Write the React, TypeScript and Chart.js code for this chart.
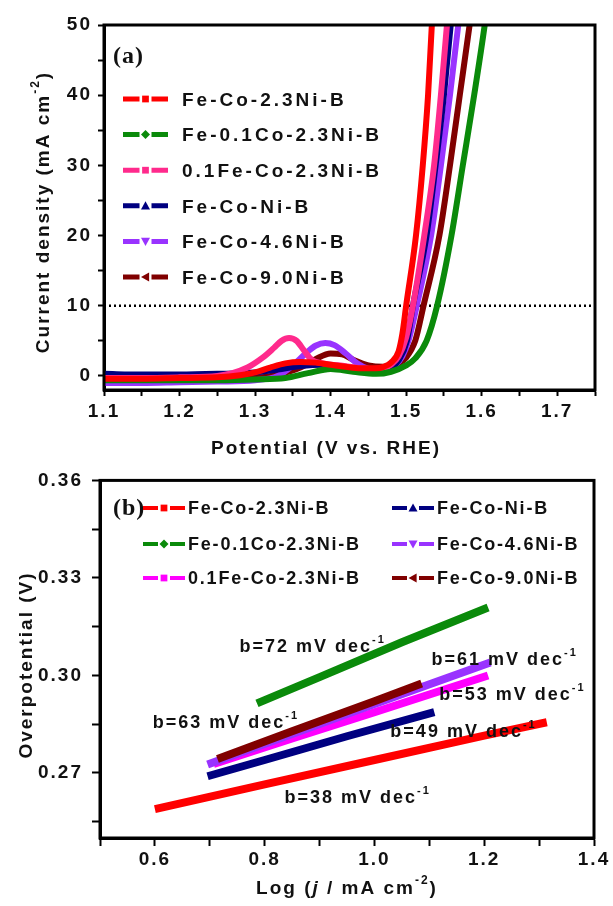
import React, { useEffect, useRef } from 'react';
import { Chart, registerables } from 'chart.js';

Chart.register(...registerables);

const SANS = '"Liberation Sans", Arial, Helvetica, sans-serif';
const SERIF = '"Liberation Serif", "Times New Roman", serif';
const INK = '#111111';

// ---------- series ----------
const seriesNames = ['Fe-Co-2.3Ni-B', 'Fe-0.1Co-2.3Ni-B', '0.1Fe-Co-2.3Ni-B', 'Fe-Co-Ni-B', 'Fe-Co-4.6Ni-B', 'Fe-Co-9.0Ni-B'];
const colorsA = ['#ff0000', '#0a8a0a', '#ff2a8c', '#000080', '#9933ff', '#800000'];
const colorsB = ['#ff0000', '#0a8a0a', '#ff00ff', '#000080', '#9933ff', '#800000'];
const markerShapes = ['square', 'diamond', 'square', 'triangleUp', 'triangleDown', 'triangleLeft'];
// drawing order in panel (b): lower = on top
const drawOrderB = [0, 3, 2, 3, 1, 0];

// ---------- (a) LSV: potential (V vs RHE) and current density (mA cm-2) ----------
const potFeCo23 = [1.10, 1.15, 1.20, 1.25, 1.28, 1.30, 1.32, 1.34, 1.36, 1.38, 1.40, 1.42, 1.44, 1.46, 1.47, 1.48, 1.49, 1.495, 1.50, 1.513, 1.522, 1.529, 1.534, 1.537];
const curFeCo23 = [-0.4, -0.4, -0.3, -0.2, 0.1, 0.5, 1.2, 1.8, 2.0, 1.9, 1.6, 1.3, 1.1, 1.1, 1.3, 1.9, 3.5, 6.0, 10, 20, 30, 40, 50, 55];

const potFe01Co = [1.10, 1.15, 1.20, 1.25, 1.30, 1.34, 1.37, 1.40, 1.43, 1.46, 1.48, 1.50, 1.512, 1.527, 1.541, 1.56, 1.575, 1.59, 1.604, 1.61];
const curFe01Co = [-0.6, -0.6, -0.6, -0.6, -0.5, -0.3, 0.4, 1.0, 0.6, 0.3, 0.6, 1.5, 2.5, 5, 10, 20, 30, 40, 50, 55];

const pot01FeCo = [1.10, 1.15, 1.20, 1.25, 1.27, 1.29, 1.31, 1.325, 1.335, 1.345, 1.355, 1.365, 1.375, 1.39, 1.42, 1.45, 1.47, 1.48, 1.49, 1.50, 1.509, 1.524, 1.537, 1.546, 1.554, 1.558];
const cur01FeCo = [-0.3, -0.3, -0.2, 0.0, 0.4, 1.2, 2.6, 4.0, 5.0, 5.4, 5.0, 3.6, 2.3, 1.8, 1.4, 1.0, 1.1, 1.6, 2.8, 5.5, 10, 20, 30, 40, 50, 55];

const potFeCoNi = [1.10, 1.15, 1.20, 1.25, 1.30, 1.33, 1.36, 1.39, 1.42, 1.45, 1.47, 1.48, 1.49, 1.501, 1.509, 1.527, 1.539, 1.550, 1.559, 1.563];
const curFeCoNi = [0.3, 0.2, 0.2, 0.3, 0.5, 0.9, 1.4, 1.6, 1.2, 0.6, 0.7, 1.2, 2.2, 5, 10, 20, 30, 40, 50, 55];

const potFeCo46 = [1.10, 1.15, 1.20, 1.25, 1.30, 1.33, 1.35, 1.37, 1.38, 1.393, 1.405, 1.42, 1.435, 1.45, 1.47, 1.485, 1.495, 1.503, 1.514, 1.533, 1.546, 1.558, 1.569, 1.574];
const curFeCo46 = [-1.0, -1.0, -0.9, -0.8, -0.6, 0.0, 1.5, 3.5, 4.3, 4.7, 4.4, 3.2, 1.8, 1.0, 0.8, 1.5, 2.8, 5, 10, 20, 30, 40, 50, 55];

const potFeCo90 = [1.10, 1.15, 1.20, 1.25, 1.30, 1.33, 1.36, 1.38, 1.40, 1.415, 1.43, 1.45, 1.47, 1.49, 1.499, 1.512, 1.523, 1.544, 1.558, 1.571, 1.584, 1.59];
const curFeCo90 = [-0.6, -0.6, -0.5, -0.5, -0.3, 0.2, 1.2, 2.4, 3.2, 3.1, 2.3, 1.5, 1.3, 1.8, 2.5, 5, 10, 20, 30, 40, 50, 55];

const lsvPotentials = [potFeCo23, potFe01Co, pot01FeCo, potFeCoNi, potFeCo46, potFeCo90];
const lsvCurrents = [curFeCo23, curFe01Co, cur01FeCo, curFeCoNi, curFeCo46, curFeCo90];

const xMinA = 1.1;
const xMaxA = 1.75;
const yMinA = -2;
const yMaxA = 50;
const xTicksA = [1.1, 1.15, 1.2, 1.25, 1.3, 1.35, 1.4, 1.45, 1.5, 1.55, 1.6, 1.65, 1.7, 1.75];
const xTickLabelsA = ['1.1', '', '1.2', '', '1.3', '', '1.4', '', '1.5', '', '1.6', '', '1.7', ''];
const yTicksA = [0, 5, 10, 15, 20, 25, 30, 35, 40, 45, 50];
const yTickLabelsA = ['0', '', '10', '', '20', '', '30', '', '40', '', '50'];
const targetCurrent = 10;

// ---------- (b) Tafel: log(j) and overpotential (V) ----------
const logJFeCo23 = [0.60, 0.80, 1.00, 1.20, 1.314];
const etaFeCo23 = [0.2589, 0.2665, 0.2740, 0.2815, 0.2856];
const logJFe01Co = [0.786, 0.90, 1.05, 1.207];
const etaFe01Co = [0.2914, 0.2995, 0.3102, 0.3209];
const logJ01FeCo = [0.707, 0.85, 1.00, 1.207];
const eta01FeCo = [0.2728, 0.2806, 0.2887, 0.3000];
const logJFeCoNi = [0.696, 0.80, 0.95, 1.109];
const etaFeCoNi = [0.2690, 0.2740, 0.2813, 0.2887];
const logJFeCo46 = [0.696, 0.85, 1.00, 1.211];
const etaFeCo46 = [0.2726, 0.2820, 0.2912, 0.3040];
const logJFeCo90 = [0.714, 0.85, 1.00, 1.086];
const etaFeCo90 = [0.2743, 0.2828, 0.2921, 0.2975];

const tafelLogJ = [logJFeCo23, logJFe01Co, logJ01FeCo, logJFeCoNi, logJFeCo46, logJFeCo90];
const tafelEta = [etaFeCo23, etaFe01Co, eta01FeCo, etaFeCoNi, etaFeCo46, etaFeCo90];

const xMinB = 0.5;
const xMaxB = 1.4;
const yMinB = 0.25;
const yMaxB = 0.36;
const xTicksB = [0.5, 0.6, 0.7, 0.8, 0.9, 1.0, 1.1, 1.2, 1.3, 1.4];
const xTickLabelsB = ['', '0.6', '', '0.8', '', '1.0', '', '1.2', '', '1.4'];
const yTicksB = [0.255, 0.27, 0.285, 0.30, 0.315, 0.33, 0.345, 0.36];
const yTickLabelsB = ['', '0.27', '', '0.30', '', '0.33', '', '0.36'];

const tafelSlopes = ['72', '61', '53', '63', '49', '38'];
const tafelNoteX = [0.754, 1.104, 1.118, 0.596, 1.029, 0.836];
const tafelNoteY = [0.3092, 0.3052, 0.2945, 0.2859, 0.2829, 0.2628];

// ---------- drawing helpers ----------
type Seg = { t: string; sup?: boolean; italic?: boolean };

function setSpacing(ctx: CanvasRenderingContext2D, px: number) {
  (ctx as any).letterSpacing = px + 'px';
}

function drawRich(ctx: CanvasRenderingContext2D, segs: Seg[], x: number, y: number, size: number, rot = 0, align: 'center' | 'left' = 'center', spacing = 2) {
  ctx.save();
  ctx.translate(x, y);
  ctx.rotate(rot);
  setSpacing(ctx, spacing);
  ctx.textAlign = 'left';
  ctx.textBaseline = 'alphabetic';
  ctx.fillStyle = INK;
  const fontFor = (s: Seg) => `${s.italic ? 'italic ' : ''}bold ${s.sup ? Math.round(size * 0.62) : size}px ${SANS}`;
  const widths = segs.map((s) => {
    ctx.font = fontFor(s);
    return ctx.measureText(s.t).width;
  });
  const total = widths.reduce((a, b) => a + b, 0);
  let cx = align === 'center' ? -total / 2 : 0;
  const base = size * 0.358;
  segs.forEach((s, i) => {
    ctx.font = fontFor(s);
    ctx.fillText(s.t, cx, s.sup ? base - size * 0.5 : base);
    cx += widths[i];
  });
  ctx.restore();
}

function drawMarker(ctx: CanvasRenderingContext2D, shape: string, x: number, y: number, r: number, color: string) {
  ctx.fillStyle = color;
  ctx.beginPath();
  if (shape === 'square') {
    ctx.rect(x - r * 0.75, y - r * 0.75, r * 1.5, r * 1.5);
  } else if (shape === 'diamond') {
    ctx.moveTo(x, y - r); ctx.lineTo(x + r, y); ctx.lineTo(x, y + r); ctx.lineTo(x - r, y);
  } else if (shape === 'triangleUp') {
    ctx.moveTo(x, y - r); ctx.lineTo(x + r, y + r * 0.8); ctx.lineTo(x - r, y + r * 0.8);
  } else if (shape === 'triangleDown') {
    ctx.moveTo(x, y + r); ctx.lineTo(x + r, y - r * 0.8); ctx.lineTo(x - r, y - r * 0.8);
  } else {
    ctx.moveTo(x - r, y); ctx.lineTo(x + r * 0.8, y - r); ctx.lineTo(x + r * 0.8, y + r);
  }
  ctx.closePath();
  ctx.fill();
}

function drawLegendItem(ctx: CanvasRenderingContext2D, x0: number, x1: number, y: number, color: string, shape: string, label: string, lw: number, size: number, spacing: number, textX: number) {
  const mid = (x0 + x1) / 2;
  ctx.save();
  ctx.strokeStyle = color;
  ctx.lineWidth = lw;
  ctx.lineCap = 'butt';
  ctx.beginPath();
  ctx.moveTo(x0, y); ctx.lineTo(mid - 6, y);
  ctx.moveTo(mid + 6, y); ctx.lineTo(x1, y);
  ctx.stroke();
  drawMarker(ctx, shape, mid, y, 4.5, color);
  ctx.font = `bold ${size}px ${SANS}`;
  setSpacing(ctx, spacing);
  ctx.fillStyle = INK;
  ctx.textAlign = 'left';
  ctx.textBaseline = 'alphabetic';
  ctx.fillText(label, textX, y + size * 0.358);
  ctx.restore();
}

const framePlugin = {
  id: 'frame',
  beforeDraw(chart: any) {
    setSpacing(chart.ctx, 2);
  },
  afterDatasetsDraw(chart: any) {
    const { ctx, chartArea: a } = chart;
    ctx.save();
    ctx.strokeStyle = '#000';
    ctx.lineWidth = 3;
    ctx.strokeRect(a.left, a.top, a.right - a.left, a.bottom - a.top);
    ctx.restore();
  },
};

const textPluginA = {
  id: 'textA',
  afterDraw(chart: any) {
    const ctx: CanvasRenderingContext2D = chart.ctx;
    ctx.save();
    ctx.font = `bold 24px ${SERIF}`;
    setSpacing(ctx, 1);
    ctx.fillStyle = INK;
    ctx.textAlign = 'left';
    ctx.textBaseline = 'alphabetic';
    ctx.fillText('(a)', 113, 55 + 24 * 0.33);
    ctx.restore();
    seriesNames.forEach((name, i) => {
      drawLegendItem(ctx, 123, 168, 99 + i * 35.6, colorsA[i], markerShapes[i], name, 5, 19, 3, 182);
    });
    drawRich(ctx, [{ t: 'Current density (mA cm' }, { t: '-2', sup: true }, { t: ')' }], 42, 212, 19, -Math.PI / 2);
    drawRich(ctx, [{ t: 'Potential (V vs. RHE)' }], 326, 447, 19);
  },
};

const textPluginB = {
  id: 'textB',
  afterDraw(chart: any) {
    const ctx: CanvasRenderingContext2D = chart.ctx;
    const xs = chart.scales.x;
    const ys = chart.scales.y;
    ctx.save();
    ctx.font = `bold 24px ${SERIF}`;
    setSpacing(ctx, 1);
    ctx.fillStyle = INK;
    ctx.textAlign = 'left';
    ctx.textBaseline = 'alphabetic';
    ctx.fillText('(b)', 113, 47 + 24 * 0.33);
    ctx.restore();
    const rows = [48, 84, 118];
    seriesNames.forEach((name, i) => {
      const col = Math.floor(i / 3);
      const row = i % 3;
      const x0 = col === 0 ? 143 : 392;
      drawLegendItem(ctx, x0, x0 + 42, rows[row], colorsB[i], markerShapes[i], name, 4, 18, 1.8, x0 + 45);
    });
    tafelSlopes.forEach((s, i) => {
      drawRich(ctx, [{ t: `b=${s} mV dec` }, { t: '-1', sup: true }], xs.getPixelForValue(tafelNoteX[i]), ys.getPixelForValue(tafelNoteY[i]), 18, 0, 'left', 2);
    });
    drawRich(ctx, [{ t: 'Overpotential (V)' }], 25, 205, 19, -Math.PI / 2);
    drawRich(ctx, [{ t: 'Log (' }, { t: 'j', italic: true }, { t: ' / mA cm' }, { t: '-2', sup: true }, { t: ')' }], 347, 427, 19);
  },
};

function axisCommon(size: number, tickLen: number, pad: number) {
  return {
    ticks: { autoSkip: false, maxRotation: 0, font: { family: SANS, size, weight: 'bold' }, color: INK, padding: pad },
    grid: { drawOnChartArea: false, drawTicks: true, tickLength: tickLen, tickWidth: 2, tickColor: '#000' },
    border: { display: true, width: 3, color: '#000' },
  };
}

function configA(): any {
  const datasets: any[] = lsvPotentials.map((pots, i) => ({
    label: seriesNames[i],
    data: pots.map((v, k) => ({ x: v, y: lsvCurrents[i][k] })),
    borderColor: colorsA[i],
    backgroundColor: colorsA[i],
    borderWidth: 6,
    pointRadius: 0,
    cubicInterpolationMode: 'monotone',
    fill: false,
  }));
  datasets.push({
    label: 'j = 10',
    data: [{ x: xMinA, y: targetCurrent }, { x: xMaxA, y: targetCurrent }],
    borderColor: '#000',
    borderWidth: 2.5,
    borderDash: [2, 3],
    pointRadius: 0,
    fill: false,
  });
  const cx = axisCommon(19, 6, 4);
  const cy = axisCommon(19, 6, 6);
  return {
    type: 'line',
    data: { datasets },
    options: {
      animation: false,
      responsive: false,
      devicePixelRatio: 1,
      layout: { padding: { top: 25, right: 18, left: 0, bottom: 0 } },
      plugins: { legend: { display: false }, tooltip: { enabled: false } },
      scales: {
        x: {
          type: 'linear', min: xMinA, max: xMaxA,
          afterBuildTicks: (s: any) => { s.ticks = xTicksA.map((v) => ({ value: v })); },
          afterFit: (s: any) => { s.height = 70; },
          ...cx,
          ticks: { ...cx.ticks, callback: (_v: any, i: number) => xTickLabelsA[i] },
        },
        y: {
          type: 'linear', min: yMinA, max: yMaxA,
          afterBuildTicks: (s: any) => { s.ticks = yTicksA.map((v) => ({ value: v })); },
          afterFit: (s: any) => { s.width = 104; },
          ...cy,
          ticks: { ...cy.ticks, callback: (_v: any, i: number) => yTickLabelsA[i] },
        },
      },
    },
    plugins: [framePlugin, textPluginA],
  };
}

function configB(): any {
  const datasets: any[] = tafelLogJ.map((xs, i) => ({
    label: seriesNames[i],
    data: xs.map((v, k) => ({ x: v, y: tafelEta[i][k] })),
    borderColor: colorsB[i],
    backgroundColor: colorsB[i],
    borderWidth: 8,
    pointRadius: 0,
    fill: false,
    order: drawOrderB[i],
  }));
  const cx = axisCommon(19, 8, 2);
  const cy = axisCommon(19, 8, 9);
  return {
    type: 'line',
    data: { datasets },
    options: {
      animation: false,
      responsive: false,
      devicePixelRatio: 1,
      layout: { padding: { top: 15, right: 19, left: 0, bottom: 0 } },
      plugins: { legend: { display: false }, tooltip: { enabled: false } },
      scales: {
        x: {
          type: 'linear', min: xMinB, max: xMaxB,
          afterBuildTicks: (s: any) => { s.ticks = xTicksB.map((v) => ({ value: v })); },
          afterFit: (s: any) => { s.height = 68; },
          ...cx,
          ticks: { ...cx.ticks, callback: (_v: any, i: number) => xTickLabelsB[i] },
        },
        y: {
          type: 'linear', min: yMinB, max: yMaxB,
          afterBuildTicks: (s: any) => { s.ticks = yTicksB.map((v) => ({ value: v })); },
          afterFit: (s: any) => { s.width = 100; },
          ...cy,
          ticks: { ...cy.ticks, callback: (_v: any, i: number) => yTickLabelsB[i] },
        },
      },
    },
    plugins: [framePlugin, textPluginB],
  };
}

export default function App() {
  const refA = useRef<HTMLCanvasElement>(null);
  const refB = useRef<HTMLCanvasElement>(null);
  useEffect(() => {
    const a = new Chart(refA.current as HTMLCanvasElement, configA());
    const b = new Chart(refB.current as HTMLCanvasElement, configB());
    return () => {
      a.destroy();
      b.destroy();
    };
  }, []);
  return (
    <div style={{ position: 'fixed', left: 0, top: 0, width: 613, height: 906, background: '#ffffff' }}>
      <canvas ref={refA} width={613} height={460} style={{ position: 'absolute', left: 0, top: 0, width: 613, height: 460 }} />
      <canvas ref={refB} width={613} height={446} style={{ position: 'absolute', left: 0, top: 460, width: 613, height: 446 }} />
    </div>
  );
}
